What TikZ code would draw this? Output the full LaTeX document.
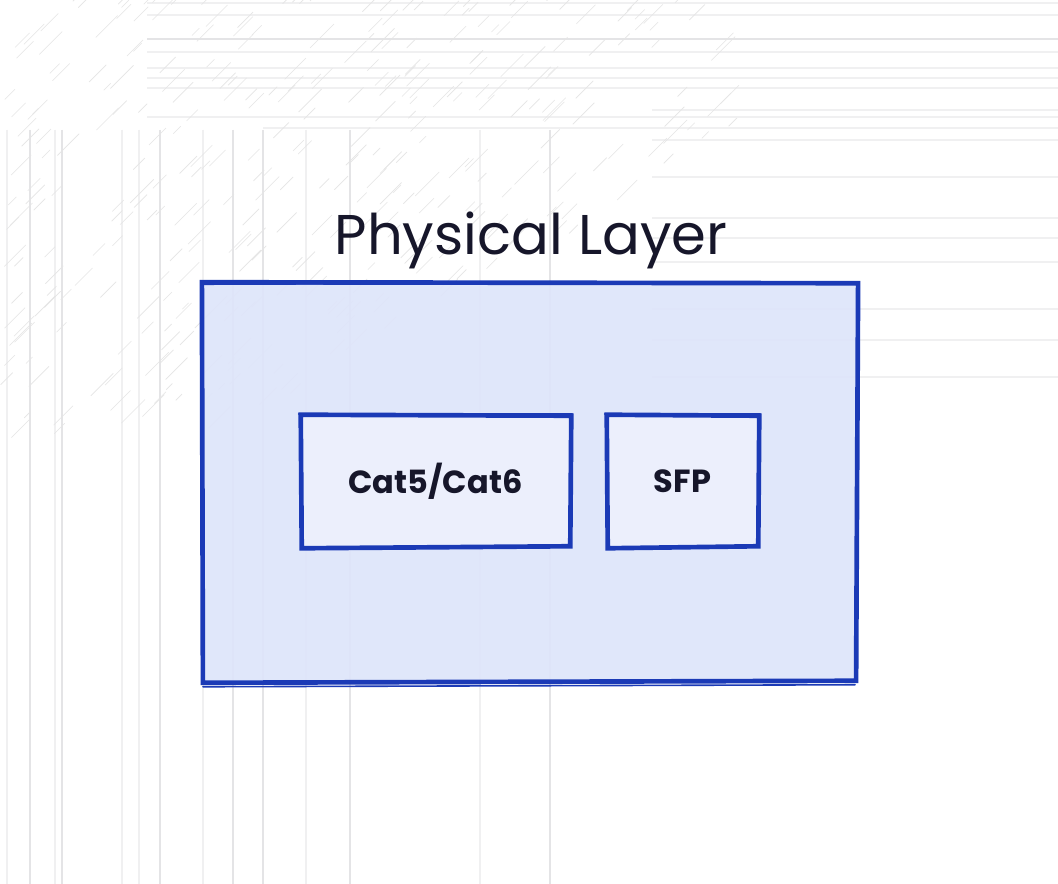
\documentclass[tikz,border=0pt]{standalone}
\usepackage{fontspec}
\setmainfont{Poppins}
\definecolor{edge}{RGB}{27,58,182}
\definecolor{outerfill}{RGB}{222,229,250}
\definecolor{innerfill}{RGB}{236,239,252}
\definecolor{ink}{RGB}{22,22,42}
\definecolor{bgline}{RGB}{240,240,241}
\definecolor{bgmid}{RGB}{228,228,230}
\begin{document}
\begin{tikzpicture}[x=0.75pt,y=-0.75pt,
  bgl/.style={draw=bgline,line width=0.8pt},
  bgstrong/.style={draw=bgmid,line width=0.9pt},
  hatch/.style={draw=gray!20,line width=0.45pt},
  sketch/.style={draw=edge,line width=3.5pt,line join=miter,line cap=round},
  sketchthin/.style={draw=edge,line width=1.2pt,line cap=round},
  outerbox/.style={rectangle,fill=outerfill,fill opacity=0.92,inner sep=0pt,minimum width=491pt,minimum height=300pt},
  innerbox/.style={rectangle,fill=innerfill,inner sep=0pt},
  lbl/.style={text=ink,font=\bfseries\fontsize{24}{28}\selectfont},
  titlelbl/.style={text=ink,font=\fontsize{42}{48}\selectfont}]
\useasboundingbox[fill=white] (0,0) rectangle (1058,884);
% background: faint sketch lines
\foreach \yy in {3,15,52,68,78,88,117}{\draw[bgl] (147,\yy) -- (1058,\yy);}
\draw[bgstrong] (147,39) -- (1058,39);
\draw[bgl] (263,128) -- (1058,128);
\foreach \yy in {110,140,177,218,238,262,309,340,377}{\draw[bgl] (652,\yy) -- (1058,\yy);}
\foreach \xx in {7,55,122,139,203,306,480}{\draw[bgl] (\xx,130) -- (\xx,884);}
\foreach \xx in {30,62,160,233,263,350,550}{\draw[bgstrong] (\xx,130) -- (\xx,884);}
\pgfmathsetseed{11}
\foreach \i in {1,...,420}{
  \pgfmathsetmacro{\hx}{rnd*740}
  \pgfmathsetmacro{\hy}{rnd*440}
  \pgfmathsetmacro{\hl}{6+rnd*18}
  \pgfmathtruncatemacro{\keep}{(\hx/740+\hy/440)<1.3 ? 1 : 0}
  \ifnum\keep=1 \draw[hatch] (\hx,\hy) -- ++(\hl,-\hl); \fi
}
% outer container
\node[outerbox] (outer) at (529.5,482.5) {};
\draw[sketch] ([shift={(0,0)}]outer.north west) -- ([shift={(1,1)}]outer.north east)
  -- ([shift={(-1,-2)}]outer.south east) -- ([shift={(1,0)}]outer.south west) -- cycle;
\draw[sketchthin] ([shift={(2,2)}]outer.north west) -- ([shift={(0,0)}]outer.north east);
\draw[sketchthin] ([shift={(1,4)}]outer.south west) -- ([shift={(-2,2)}]outer.south east);
\node[titlelbl] (title) at (531,240) {Physical Layer};
% inner boxes
\node[innerbox,minimum width=201.75pt,minimum height=99.75pt] (cat) at (435.5,481.5) {};
\draw[sketch] ([shift={(0,0)}]cat.north west) -- ([shift={(1,1)}]cat.north east)
  -- ([shift={(0,-2)}]cat.south east) -- ([shift={(1,0)}]cat.south west) -- cycle;
\draw[sketchthin] ([shift={(-2,-1)}]cat.north west) -- ([shift={(2,-1)}]cat.north east);
\node[lbl] (catlbl) at (cat.center) {Cat5/Cat6};
\node[innerbox,minimum width=113.25pt,minimum height=99.75pt] (sfp) at (682.5,481.5) {};
\draw[sketch] ([shift={(0,0)}]sfp.north west) -- ([shift={(1,1)}]sfp.north east)
  -- ([shift={(0,-2)}]sfp.south east) -- ([shift={(1,0)}]sfp.south west) -- cycle;
\draw[sketchthin] ([shift={(-2,-1)}]sfp.north west) -- ([shift={(2,-1)}]sfp.north east);
\node[lbl] (sfplbl) at (sfp.center) {SFP};
\end{tikzpicture}
\end{document}
